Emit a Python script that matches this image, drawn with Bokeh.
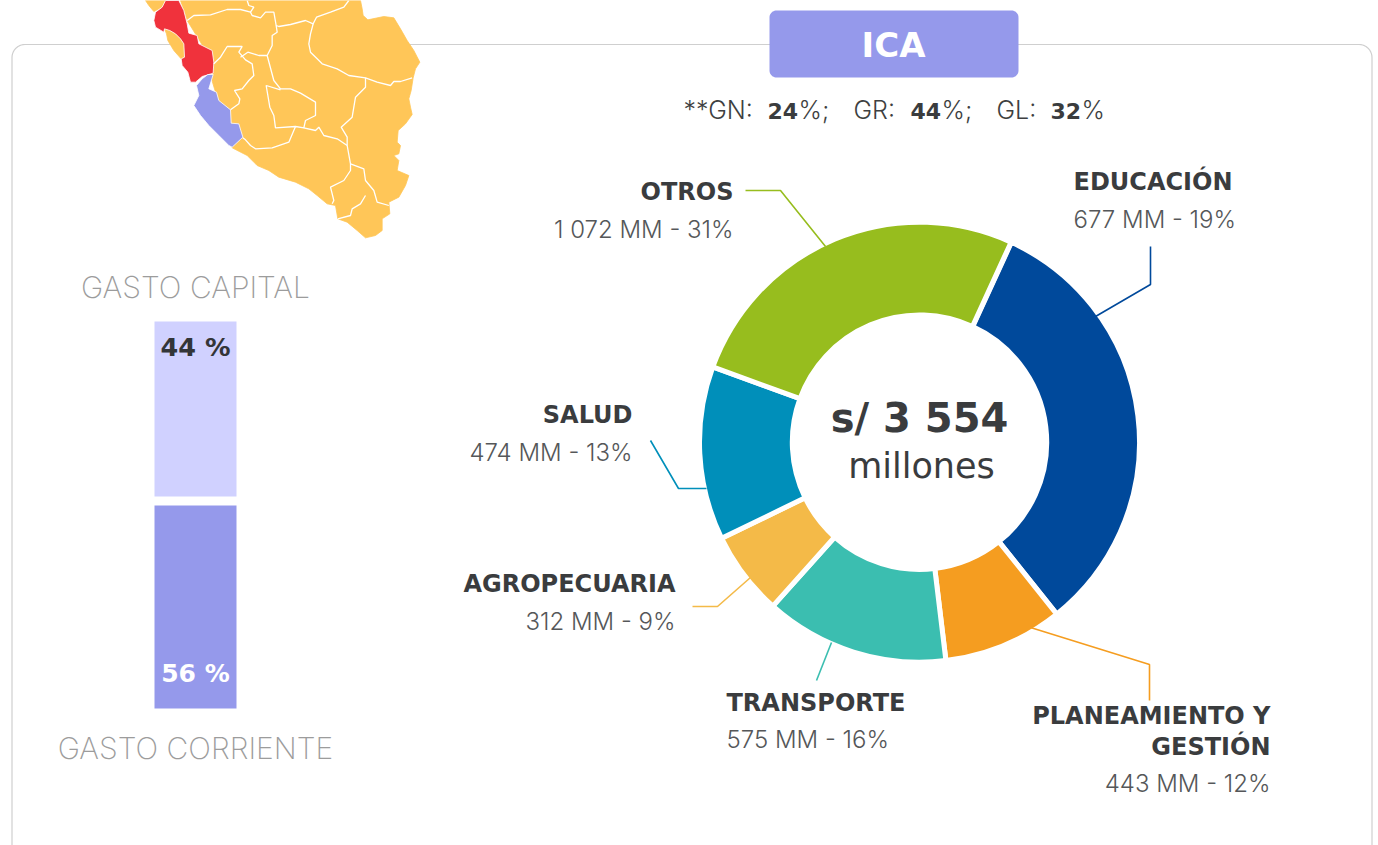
from bokeh.plotting import figure
from bokeh.models import Range1d
from bokeh.core.properties import value
from bokeh.embed import file_html
from bokeh.resources import INLINE
import numpy as np

W, H = 1378, 845

# ---- data ----
region = "ICA"
gov_levels = ["GN", "GR", "GL"]
gov_shares = [24, 44, 32]
total_label = "s/ 3 554"
total_unit = "millones"

categories = ["EDUCACIÓN", "PLANEAMIENTO Y\nGESTIÓN", "TRANSPORTE", "AGROPECUARIA", "SALUD", "OTROS"]
amounts = ["677", "443", "575", "312", "474", "1 072"]
percents = [19, 12, 16, 9, 13, 31]
# slice spans as drawn in the picture (degrees of the ring)
slice_spans = [116.7, 31.7, 48.7, 22.3, 45.9, 94.6]
slice_colors = ["#00499B", "#F59D20", "#3BBEB0", "#F4BA48", "#008FBA", "#97BD1E"]
ring_start = 24.7

spend_names = ["GASTO CAPITAL", "GASTO CORRIENTE"]
spend_pct = [44, 56]
spend_heights = [175, 203]
spend_colors = ["#D0D1FF", "#9599EB"]
spend_text_colors = ["#333538", "#FFFFFF"]

# map shapes, traced in a 3x crop whose origin is (130, 0)
map_base = [(150,0),(690,0),(695,25),(698,45),(712,58),(760,48),(790,52),(810,85),(830,120),(850,150),(868,185),(855,205),(848,232),(842,270),(835,295),(840,320),(845,342),(825,370),(803,390),(800,425),(810,435),(805,460),(790,465),(805,480),(800,510),(835,525),(825,555),(805,590),(775,605),(778,640),(755,655),(755,690),(735,705),(705,712),(680,690),(650,665),(622,655),(615,615),(590,610),(560,585),(535,565),(495,545),(445,530),(415,510),(380,495),(350,465),(305,442),(240,225),(250,190),(170,60)]
map_coast_a = [(45,0),(105,0),(95,20),(70,33),(55,15)]
map_coast_b = [(102,85),(118,90),(135,100),(150,115),(160,130),(162,170),(152,175),(130,150),(112,120),(108,100)]
map_red = [(105,0),(145,0),(160,30),(170,70),(175,98),(200,105),(205,130),(245,150),(250,185),(248,218),(215,228),(195,245),(180,245),(172,215),(155,195),(152,175),(162,170),(160,130),(150,115),(135,100),(118,90),(102,85),(100,95),(75,80),(70,60),(75,35),(95,20)]
map_blue = [(215,235),(232,222),(248,222),(235,265),(258,275),(265,300),(300,328),(302,368),(325,370),(337,410),(305,440),(295,435),(265,405),(235,375),(210,345),(190,315),(205,285),(198,255)]
map_borders = [
    [(170,60),(190,45),(240,43),(290,27),(330,27),(360,35),(365,45),(390,52),(405,35),(430,35),(437,75),(445,78),(480,72),(525,60),(548,70),(558,50),(600,35),(640,20),(655,0)],
    [(350,0),(355,15),(370,20),(360,35)],
    [(437,75),(440,95),(425,105),(425,135),(410,165),(385,165),(352,155),(330,170)],
    [(548,70),(540,100),(535,130),(540,155),(560,175),(575,190),(620,205),(655,225),(705,232),(740,245),(780,255),(790,243),(810,243),(845,232)],
    [(250,190),(270,170),(290,138),(335,138),(325,155),(345,178),(365,190),(370,225),(355,240),(335,265),(312,270),(328,295),(325,310),(300,328)],
    [(410,165),(430,240),(450,265),(480,265),(510,278),(555,305),(555,345),(525,360),(520,382),(495,378),(435,382),(430,345),(418,320),(407,255),(450,268)],
    [(495,378),(475,425),(425,442),(375,445),(360,435),(345,418),(337,412)],
    [(520,382),(555,390),(565,380),(580,405),(620,415),(650,435),(660,490),(660,510),(640,540),(600,560),(610,600),(605,610)],
    [(705,232),(705,260),(675,290),(665,350),(632,380),(650,410),(650,435)],
    [(660,490),(700,505),(705,540),(730,570),(740,605),(775,615)],
    [(705,585),(690,610),(665,625),(660,645),(622,655)],
]

# leader lines, same order as categories
leaders = [
    [(1150,246),(1150,284),(1095,316)],
    [(1149,700),(1149,664),(1030,627)],
    [(816,680),(831,642)],
    [(692,606),(717,606),(750,577)],
    [(650,440),(678,488),(706,488)],
    [(745,190),(780,190),(825,246)],
]
# label anchor: (x, head baseline, amount baseline, align)
label_pos = [
    (1073,190,228,"left"), (1270,724,792,"right"), (726,711,748,"left"),
    (675,592,630,"right"), (632,423,461,"right"), (733,200,238,"right"),
]

DARK = "#3A3C3E"
MID = "#555759"
F_REG = "Inter Light"
F_B = "DejaVu Sans"
F_THIN = "Inter ExtraLight"

p = figure(width=W, height=H, x_range=Range1d(0, W), y_range=Range1d(0, H),
           toolbar_location=None, output_backend="svg", min_border=0,
           background_fill_color="white", border_fill_color="white",
           outline_line_color=None)
p.axis.visible = False
p.grid.visible = False

fy = lambda v: H - v
BASE_FIX = 0.36

def txt(x, y, s, size, color=DARK, font=F_REG, style="normal", align="left"):
    p.text([x], [fy(y - BASE_FIX*size)], text=[s], text_font=value(font), text_font_size=f"{size}px",
           text_font_style=style, text_color=color, text_align=align, text_baseline="alphabetic")

def rounded(x0, y0, x1, y1, r):
    xs, ys = [], []
    for cx, cy, a0 in [(x1-r, y0+r, -90), (x1-r, y1-r, 0), (x0+r, y1-r, 90), (x0+r, y0+r, 180)]:
        t = np.radians(np.linspace(a0, a0+90, 12))
        xs += list(cx + r*np.cos(t)); ys += list(cy + r*np.sin(t))
    return xs, [fy(v) for v in ys]

# panel outline
bx, by = rounded(11.5, 44, 1371.5, 900, 13)
p.patch(bx, by, fill_color="white", line_color="#CFCFCF", line_width=1.2)

# map
def mp(pts):
    return [130 + a/3 for a, _ in pts], [fy(b/3) for _, b in pts]
for shape, col in [(map_base, "#FFC658"), (map_coast_a, "#FFC658"), (map_coast_b, "#FFC658"),
                   (map_red, "#F0323C"), (map_blue, "#9599EB")]:
    xs, ys = mp(shape)
    p.patch(xs, ys, fill_color=col, line_color="white" if col != "#FFC658" else col, line_width=0.8)
p.multi_line([mp(b)[0] for b in map_borders], [mp(b)[1] for b in map_borders], line_color="white", line_width=1.3)

# title box
tx, ty = rounded(769, 10, 1018, 77, 7)
p.patch(tx, ty, fill_color="#9599EB", line_color=None)
txt(893, 57, region, 34, "white", F_B, "bold", "center")

# share line
seg_x = [(683, 767, 798), (853, 910, 941), (996, 1050, 1081)]
for i, (lvl, sh) in enumerate(zip(gov_levels, gov_shares)):
    a, b, c = seg_x[i]
    prefix = "**" if i == 0 else ""
    tail = "%;" if i < 2 else "%"
    txt(a, 118, f"{prefix}{lvl}:", 25, "#3E3F41")
    txt(b, 118, str(sh), 22, "#3A3C3E", F_B, "bold")
    txt(c, 118, tail, 25, "#3E3F41")

# spend bars
tops = [321, 505]
for nm, pct, h, col, tc, top in zip(spend_names, spend_pct, spend_heights, spend_colors, spend_text_colors, tops):
    p.quad(left=[154], right=[236], top=[fy(top)], bottom=[fy(top + h)], fill_color=col, line_color=None)
txt(195, 356, f"{spend_pct[0]} %", 25.5, spend_text_colors[0], F_B, "bold", "center")
txt(195, 682, f"{spend_pct[1]} %", 25, spend_text_colors[1], F_B, "bold", "center")
txt(195, 297, spend_names[0], 30, "#9C9C9C", F_THIN, "normal", "center")
txt(195, 758, spend_names[1], 30, "#9C9C9C", F_THIN, "normal", "center")

# ring
cx, cy, R, r = 919, 441.7, 217.5, 129.7
ends = ring_start + np.cumsum(slice_spans)
starts = ends - np.array(slice_spans)
p.annular_wedge([cx]*6, [fy(cy)]*6, inner_radius=r - 2.5, outer_radius=R + 2.5,
                start_angle=np.radians(90 - ends), end_angle=np.radians(90 - starts),
                fill_color=slice_colors, line_color="white", line_width=5)

# leaders, on top of the ring's white edge so that they reach the slices
for pts, col in zip(leaders, slice_colors):
    p.line([a for a, _ in pts], [fy(b) for _, b in pts], line_color=col, line_width=1.6)

txt(919, 432, total_label, 40, DARK, F_B, "bold", "center")
txt(921, 478, total_unit, 35, DARK, "DejaVu Sans", "normal", "center")

# labels
for cat, amt, pc, (x, y1, y2, al) in zip(categories, amounts, percents, label_pos):
    lines = cat.split("\n")
    for k, ln in enumerate(lines):
        txt(x, y1 + 31*k, ln, 24, DARK, F_B, "bold", al)
    txt(x, y2, f"{amt} MM - {pc}%", 24, MID, F_REG, "normal", al)

open("out.html", "w").write(file_html(p, INLINE))
